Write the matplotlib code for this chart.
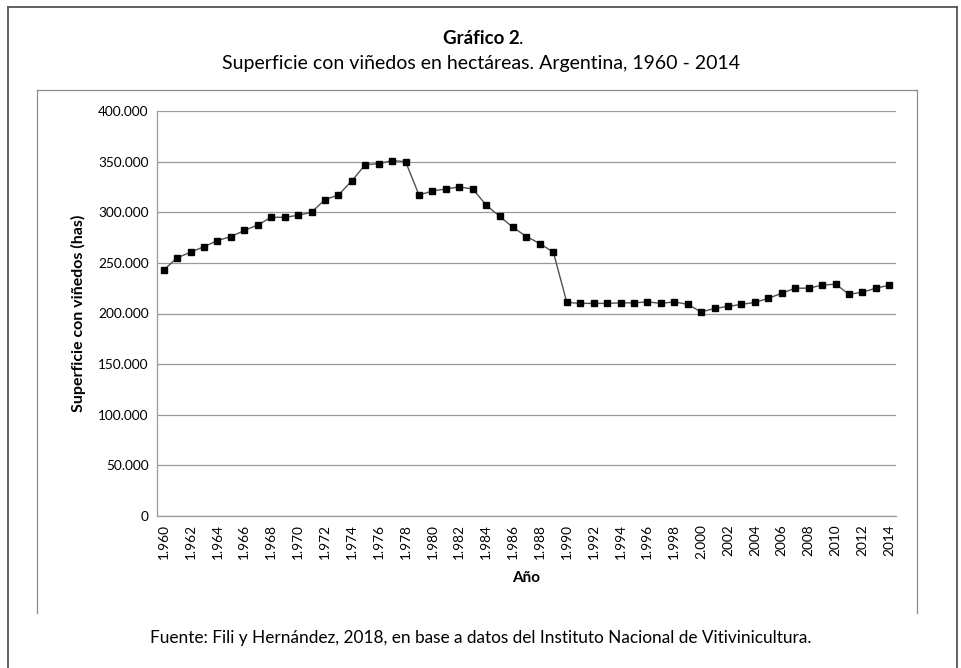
import matplotlib
matplotlib.use("Agg")
import matplotlib.pyplot as plt
from matplotlib.lines import Line2D

plt.rcParams['font.family'] = ['Lato', 'DejaVu Sans']

# superficie con viñedos (has), 1960 - 2014
years = list(range(1960, 2015))
surface = [
    243000, 255000, 260500, 266000, 272000, 276000, 282000, 287500, 295000, 295000,
    297000, 300000, 312500, 317000, 331000, 347000, 348000, 351000, 350000, 317000,
    321000, 323000, 325000, 323000, 307000, 296000, 285000, 276000, 269000, 260500,
    211000, 210000, 210000, 210000, 210500, 210500, 211500, 210000, 211500, 209000,
    201600, 205000, 207000, 209000, 211000, 215000, 220000, 225000, 225000, 228000,
    229000, 219000, 221000, 225000, 228000,
]
tick_years = years[::2]
tick_labels = ["%d.%03d" % (y // 1000, y % 1000) if y <= 2000 else str(y) for y in tick_years]
y_ticks = [0, 50000, 100000, 150000, 200000, 250000, 300000, 350000, 400000]
y_labels = ["0", "50.000", "100.000", "150.000", "200.000", "250.000",
            "300.000", "350.000", "400.000"]

W, H = 962, 668
fig = plt.figure(figsize=(W / 100, H / 100), dpi=100)
fig.patch.set_facecolor("white")


def px(x, y):
    return x / W, 1 - y / H


def seg(x0, y0, x1, y1, color, lw):
    a, b = px(x0, y0)
    c, d = px(x1, y1)
    fig.add_artist(Line2D([a, c], [b, d], color=color, lw=lw, transform=fig.transFigure))


# outer frame
seg(8, 7, 8, 668, "#555555", 1.3)
seg(8, 7, 957, 7, "#555555", 1.3)
seg(957, 7, 957, 668, "#555555", 1.3)
# chart area box (no bottom line)
seg(37, 90, 37, 613, "#8c8c8c", 0.9)
seg(37, 90, 917, 90, "#8c8c8c", 0.9)
seg(917, 90, 917, 613, "#8c8c8c", 0.9)

ax = fig.add_axes([157 / W, 1 - 516 / H, (896 - 157) / W, (516 - 111) / H])
x = list(range(len(years)))
ax.plot(x, surface, color="#505050", lw=1, marker="s", markersize=5,
        markerfacecolor="black", markeredgecolor="black", zorder=3)

ax.set_xlim(-0.5, len(years) - 0.5)
ax.set_ylim(0, 400000)
ax.set_yticks(y_ticks)
ax.set_yticklabels(y_labels, fontsize=9.8)
ax.set_xticks([years.index(y) for y in tick_years])
ax.set_xticklabels(tick_labels, rotation=90, fontsize=9.8)
ax.tick_params(length=0, pad=6)
ax.grid(axis="y", color="#9a9a9a", lw=0.9)
ax.set_axisbelow(True)
for s in ["top", "right"]:
    ax.spines[s].set_visible(False)
for s in ["left", "bottom"]:
    ax.spines[s].set_color("#9a9a9a")
    ax.spines[s].set_linewidth(0.9)

ax.set_ylabel("Superficie con viñedos (has)", fontsize=11.5, fontweight="bold", labelpad=9)
ax.set_xlabel("Año", fontsize=11, fontweight="bold", labelpad=8)

# title: bold "Gráfico 2" followed by a plain "."
t1 = fig.text(0.5, 1 - 38 / H, "Gráfico 2", ha="center", va="center",
              fontsize=13.5, fontweight="bold")
fig.canvas.draw()
bb = t1.get_window_extent()
fig.text(bb.x1 / fig.bbox.width, 1 - 38 / H, ".", ha="left", va="center", fontsize=13.5)

fig.text(0.5, 1 - 63 / H, "Superficie con viñedos en hectáreas. Argentina, 1960 - 2014",
         ha="center", va="center", fontsize=14)
fig.text(0.5, 1 - 638 / H,
         "Fuente: Fili y Hernández, 2018, en base a datos del Instituto Nacional de Vitivinicultura.",
         ha="center", va="center", fontsize=12.4)

fig.savefig("out.png", dpi=100)
